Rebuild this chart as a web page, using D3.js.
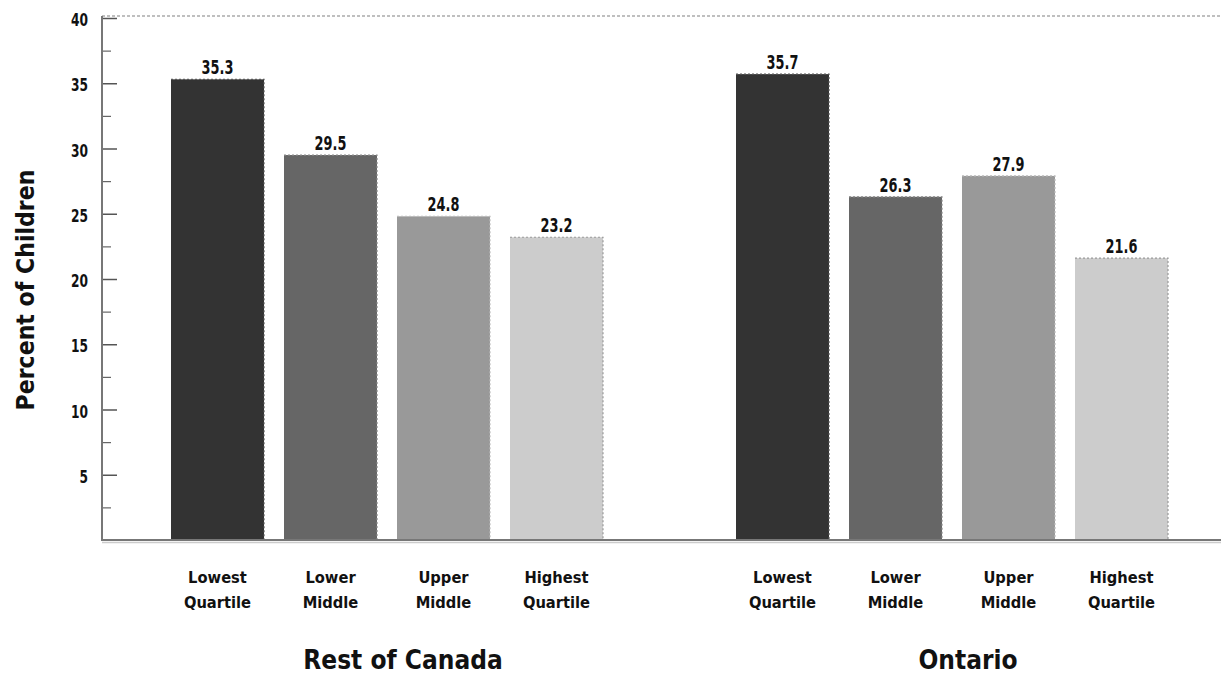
<!DOCTYPE html>
<html>
<head>
<meta charset="utf-8">
<script src="https://cdn.jsdelivr.net/npm/d3@7"></script>
<style>
  html, body { margin: 0; padding: 0; background: #fff; }
  svg { display: block; }
  text { font-family: "DejaVu Sans", sans-serif; font-weight: bold; fill: #111; }
</style>
</head>
<body>
<svg id="chart" width="1221" height="677"></svg>
<script>
const groups = ["Rest of Canada", "Ontario"];
const categories = ["Lowest Quartile", "Lower Middle", "Upper Middle", "Highest Quartile"];
const categoryLines = [["Lowest", "Quartile"], ["Lower", "Middle"], ["Upper", "Middle"], ["Highest", "Quartile"]];
const restOfCanada = [35.3, 29.5, 24.8, 23.2];
const ontario = [35.7, 26.3, 27.9, 21.6];
const yTicks = [5, 10, 15, 20, 25, 30, 35, 40];
const yMinorTicks = [2.5, 7.5, 12.5, 17.5, 22.5, 27.5, 32.5, 37.5];
const colors = ["#333333", "#666666", "#999999", "#cccccc"];
const edgeColors = ["#555555", "#888888", "#bbbbbb", "#999999"];
const yTitle = "Percent of Children";

const seriesByGroup = { "Rest of Canada": restOfCanada, "Ontario": ontario };

const svg = d3.select("#chart");
const axisX = 102, baseY = 540, topY = 18;

const y = d3.scaleLinear().domain([0, 40]).range([baseY, topY]);
const x0 = d3.scalePoint().domain(groups).range([387, 952]);
const x1 = d3.scaleBand().domain(categories).range([-216, 216]).paddingInner(0.177).paddingOuter(0);

// scaled (condensed) text helper
function label(parent, x, yy, str, size, sx, anchor, rot) {
  return parent.append("text")
    .attr("transform", `translate(${x},${yy})${rot ? " rotate(" + rot + ")" : ""} scale(${sx},1)`)
    .attr("text-anchor", anchor || "middle")
    .attr("font-size", size)
    .text(str);
}

// top dotted frame line
svg.append("line")
  .attr("x1", axisX).attr("x2", 1221).attr("y1", 16).attr("y2", 16)
  .attr("stroke", "#aaa").attr("stroke-width", 1.5).attr("stroke-dasharray", "3,2");

// bars
groups.forEach(g => {
  const vals = seriesByGroup[g];
  const gg = svg.append("g").attr("transform", `translate(${x0(g)},0)`);
  categories.forEach((c, i) => {
    const bx = x1(c), bw = x1.bandwidth(), by = y(vals[i]);
    gg.append("rect")
      .attr("x", bx).attr("y", by).attr("width", bw).attr("height", baseY - by)
      .attr("fill", colors[i]);
    gg.append("path")
      .attr("d", `M${bx},${by}H${bx + bw}V${baseY}`)
      .attr("fill", "none").attr("stroke", edgeColors[i]).attr("stroke-width", 1.2)
      .attr("stroke-dasharray", "2,2");
    label(gg, bx + bw / 2, by - 5, vals[i].toFixed(1), 19, 0.68);
    categoryLines[i].forEach((ln, k) => {
      label(gg, bx + bw / 2, 583 + k * 25, ln, 15, 0.98);
    });
  });
  label(svg, x0(g) + 16, 669, g, 26, 0.9);
});

// y axis ticks
const yAxis = d3.axisRight(y).tickValues(yTicks).tickSize(15).tickFormat("");
const ya = svg.append("g").attr("transform", `translate(${axisX},0)`).call(yAxis);
ya.select(".domain").remove();
ya.selectAll(".tick line").attr("stroke", "#555").attr("stroke-width", 1.5);
const yMinor = d3.axisRight(y).tickValues(yMinorTicks).tickSize(9).tickFormat("");
const ym = svg.append("g").attr("transform", `translate(${axisX},0)`).call(yMinor);
ym.select(".domain").remove();
ym.selectAll(".tick line").attr("stroke", "#666").attr("stroke-width", 1.2);

yTicks.forEach(d => label(svg, 88, y(d) + 8, String(d), 17, 0.72, "end"));

svg.append("line")
  .attr("x1", axisX).attr("x2", axisX).attr("y1", 16).attr("y2", baseY + 1)
  .attr("stroke", "#777").attr("stroke-width", 2);
svg.append("line")
  .attr("x1", axisX - 1).attr("x2", 1221).attr("y1", baseY).attr("y2", baseY)
  .attr("stroke", "#777").attr("stroke-width", 2);
svg.append("line")
  .attr("x1", axisX).attr("x2", 1221).attr("y1", baseY + 2.5).attr("y2", baseY + 2.5)
  .attr("stroke", "#ccc").attr("stroke-width", 1.5);

// y title
label(svg, 34, 290, yTitle, 24, 0.92, "middle", -90);
</script>
</body>
</html>
